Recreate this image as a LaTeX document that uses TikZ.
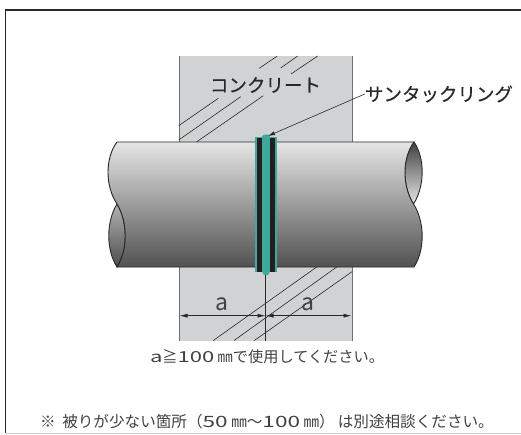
\documentclass[tikz,border=0pt]{standalone}
\usepackage{fontspec}
\usepackage{tikz}
\usetikzlibrary{positioning,calc,arrows.meta}
\newfontfamily\jpfont{Noto Sans CJK JP}
\newfontfamily\jplabelfont[FakeBold=0.35]{Noto Sans CJK JP}
\newfontfamily\widefont[FakeStretch=1.45]{Noto Sans CJK JP}
\newcommand{\widetxt}[1]{{\widefont #1}}
\definecolor{myconcrete}{RGB}{209,210,212}
\definecolor{myedge}{RGB}{110,111,113}
\definecolor{myteal}{RGB}{62,168,155}
\definecolor{myblack}{RGB}{35,31,32}
\definecolor{myink}{RGB}{40,40,40}
\definecolor{mytext}{RGB}{65,65,65}

\begin{document}
\begin{tikzpicture}[x=1pt,y=-1pt,
		  label/.style={font=\jplabelfont\fontsize{18.5}{20}\selectfont,text=myink,inner sep=0pt},
		  letter/.style={font=\jpfont\fontsize{23}{25}\selectfont,text=mytext,inner sep=0pt},
		  caption/.style={font=\jpfont\fontsize{15.2}{17}\selectfont,text=mytext,inner sep=0pt},
		  footnote/.style={font=\jpfont\fontsize{15.6}{17}\selectfont,text=mytext,inner sep=0pt},
		  hatch/.style={myink,line width=0.6pt},
		  pipeline/.style={myink,line width=0.9pt},
		  dim/.style={myink,line width=0.7pt,{Latex[length=8pt,width=4pt]}-{Latex[length=8pt,width=4pt]}}
		]
			\useasboundingbox (0,0) rectangle (521,435);

			% the frame
			\draw [myink,line width=1.5pt] (5.5,433) -- (5.5,10) -- (521,10);
			\draw [black!20,line width=1pt] (5.5,433.5) -- (521,433.5);

			% the concrete
			\fill [myconcrete] (179,56) rectangle (352,341);
			\draw [myedge,line width=0.9pt] (179,56) -- (179,341);
			\draw [myedge,line width=0.9pt] (352,56) -- (352,341);

			% the hatching
			\draw [hatch] (178.7,125.7) -- (218.3,98.3);
			\draw [hatch] (178.7,140) -- (240.7,96.7);
			\draw [hatch] (196,142.3) -- (263.3,95.7);
			\draw [hatch] (259.3,68.3) -- (277.3,56);
			\draw [hatch] (280.7,68) -- (297.7,56);
			\draw [hatch] (291,74) -- (317.7,56);
			\draw [hatch] (213.3,340.5) -- (316.7,267);
			\draw [hatch] (234,340.5) -- (336.7,267);
			\draw [hatch] (254.3,340.5) -- (352,271.7);

			% the openings of the pipe
			\shade [top color=black!75,bottom color=black!10,draw=myink,line width=0.9pt]
				(414,142) .. controls (425,158) and (425,186) .. (413.5,204)
				.. controls (402,186) and (402,158) .. (414,142);
			\shade [top color=black!30,bottom color=black!70,draw=myink,line width=0.9pt]
				(117,204) .. controls (128,222) and (128,250) .. (117,267)
				.. controls (106,250) and (106,222) .. (117,204);

			% the pipe
			\shade [top color=black!10,bottom color=black!68]
				(117,142) -- (414,142)
				.. controls (402,158) and (402,186) .. (413.5,204)
				.. controls (425,222) and (425,250) .. (414,267)
				-- (117,267)
				.. controls (128,250) and (128,222) .. (117,204)
				.. controls (105,186) and (105,158) .. (117,142);
			\draw [pipeline]
				(117,142) -- (414,142)
				.. controls (402,158) and (402,186) .. (413.5,204)
				.. controls (425,222) and (425,250) .. (414,267)
				-- (117,267)
				.. controls (128,250) and (128,222) .. (117,204)
				.. controls (105,186) and (105,158) .. (117,142);

			% the ring
			\fill [myteal] (255.2,137) rectangle (276.7,271.7);
			\fill [myteal] (261.7,137) .. controls (262,134) and (270,133) .. (270,137) -- cycle;
			\fill [myteal] (261.7,271) -- (270,271) .. controls (270,276.5) and (261.7,276.5) .. (261.7,271) -- cycle;
			\fill [myblack] (256.8,137.7) rectangle (261.7,271.7);
			\fill [myblack] (270,137.7) rectangle (275,271.7);

			% the centre line and the dimensions
			\coordinate (cbottom) at (265.5,341);
			\coordinate (ctop) at (265.5,275);
			\coordinate (dleft) at (179.5,315.7);
			\coordinate (dmid) at (265.5,315.7);
			\coordinate (dright) at (351.5,315.7);
			\draw [myink,line width=0.7pt] (ctop) -- (cbottom);
			\draw [dim] (dleft) -- (dmid);
			\draw [dim] (dmid) -- (dright);
			\node [letter] (aleft) at (221.7,304.5) {a};
			\node [letter] (aright) at (308,304.5) {a};

			% the labels
			\node [label] (concrete) at (265.5,85) {コンクリート};
			\node [label] (ring) at (439,94) {サンタックリング};
			\coordinate (ringtop) at (268,136);
			\draw [myink,line width=0.6pt,-{Latex[length=7pt,width=4pt]}] (ring.west) -- (ringtop);

			% the notes
			\node [caption] (note) at (267,357) {\widetxt{a}≧\widetxt{100} ㎜で使用してください。};
			\node [footnote] (foot) at (267,422) {※\hspace{3pt} 被りが少ない箇所（\widetxt{50} ㎜～\widetxt{100} ㎜）\hspace{3pt}は別途相談ください。};

		\end{tikzpicture}
\end{document}
